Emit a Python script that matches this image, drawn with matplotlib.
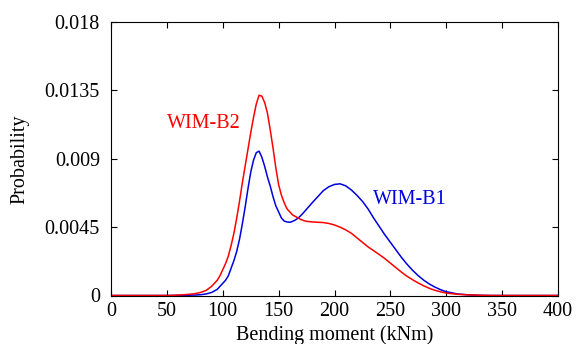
import matplotlib
matplotlib.use("Agg")
import matplotlib.pyplot as plt

plt.rcParams['font.family'] = ['Liberation Serif', 'DejaVu Serif']

# Bending moment grid (kNm)
moment = [0, 10, 20, 30, 40, 50, 55, 60, 65, 70, 75, 80, 85, 90, 92.5, 95, 97.5,
          100, 102.5, 105, 107.5, 110, 112.5, 115, 117.5, 120, 122.5, 125, 127.5,
          130, 132.5, 135, 137.5, 140, 142.5, 145, 147.5, 150, 152.5, 155, 157.5,
          160, 162.5, 165, 167.5, 170, 172.5, 175,
          180, 185, 190, 195, 200, 205, 210, 215, 220, 225, 230, 235, 240, 245, 250,
          255, 260, 265, 270, 275, 280, 285, 290, 295, 300, 310, 320, 330, 340,
          350, 360, 370, 380, 390, 400]

wim_b1 = [0, 0, 0, 0, 0, 0, 0, 0.00001, 0.00001, 0.00002, 0.00003, 0.00005, 0.0001, 0.0002, 0.0003, 0.0004, 0.0006,
          0.0008, 0.0010, 0.0013, 0.0018, 0.0023, 0.0029, 0.0037, 0.0047, 0.0058, 0.0070, 0.0081, 0.0089,
          0.0094, 0.0095, 0.0091, 0.0085, 0.0078, 0.0072, 0.0065, 0.0059, 0.0055, 0.0051, 0.0049, 0.00484,
          0.00482, 0.00488, 0.00497, 0.0051, 0.00527, 0.00547, 0.00568,
          0.0061, 0.0065, 0.0069, 0.00716, 0.00731, 0.00735, 0.00722, 0.00695, 0.0066, 0.0062, 0.0057, 0.0051,
          0.00455, 0.0040, 0.0035, 0.0030, 0.0025, 0.00205, 0.00165, 0.0013, 0.0010, 0.00075, 0.00055, 0.00038,
          0.00025, 0.0001, 0.00004, 0.00001, 0, 0, 0, 0, 0, 0, 0]

wim_b2 = [0, 0, 0, 0, 0, 0, 0.00001, 0.00003, 0.00005, 0.00008, 0.00012, 0.0002, 0.00033, 0.0006, 0.0008, 0.0010, 0.0013,
          0.0017, 0.0021, 0.0026, 0.0033, 0.0041, 0.0051, 0.0062, 0.0074, 0.0085, 0.0096, 0.0107, 0.0117,
          0.0126, 0.01318, 0.01312, 0.0127, 0.0120, 0.0109, 0.0097, 0.0084, 0.0073, 0.0066, 0.0061, 0.0057,
          0.0055, 0.0053, 0.0052, 0.0051, 0.0050, 0.00493, 0.00488,
          0.00484, 0.00482, 0.0048, 0.00474, 0.00464, 0.0045, 0.00432, 0.0041, 0.0038, 0.0035, 0.0032, 0.00295,
          0.0027, 0.00243, 0.00213, 0.00183, 0.00153, 0.00126, 0.00103, 0.00082, 0.00063, 0.00047, 0.00034, 0.00024,
          0.00016, 0.00008, 0.00004, 0.00002, 0, 0, 0, 0, 0, 0, 0]

xticks = [0, 50, 100, 150, 200, 250, 300, 350, 400]
yticks = [0, 0.0045, 0.009, 0.0135, 0.018]
ytick_labels = ['0', '0.0045', '0.009', '0.0135', '0.018']

fig = plt.figure(figsize=(5.76, 3.44), dpi=100)
ax = fig.add_axes([111/576, 1-295.5/344, 447/576, 273.5/344])

ax.plot(moment, wim_b1, color='#0000e0', lw=1.1)
ax.plot(moment, wim_b2, color='#ff0000', lw=1.1)

ax.set_xlim(0, 400)
ax.set_ylim(0, 0.018)
ax.set_xticks(xticks)
ax.set_xticklabels([str(t) for t in xticks])
ax.set_yticks(yticks)
ax.set_yticklabels(ytick_labels)
ax.tick_params(direction='in', top=True, right=True, length=4, width=0.8,
               labelsize=14.5, colors='black')
ax.tick_params(axis='x', pad=5)
ax.tick_params(axis='y', pad=8)
for s in ax.spines.values():
    s.set_linewidth(0.8)

ax.text((204-111)/447, (295.5-124)/273.5, 'WIM-B2', color='#ff0000', fontsize=14.5,
        ha='center', va='center', transform=ax.transAxes)
ax.text((410-111)/447, (295.5-200)/273.5, 'WIM-B1', color='#0000e0', fontsize=14.5,
        ha='center', va='center', transform=ax.transAxes)

ax.set_xlabel('Bending moment (kNm)', fontsize=14.5)
ax.xaxis.set_label_coords(0.5, -0.145)
ax.xaxis.label.set_va('center')
ax.set_ylabel('Probability', fontsize=14.5)
ax.yaxis.set_label_coords(-(111-20)/447, 0.5)
ax.yaxis.label.set_va('center')

fig.savefig('out.png', dpi=100)
